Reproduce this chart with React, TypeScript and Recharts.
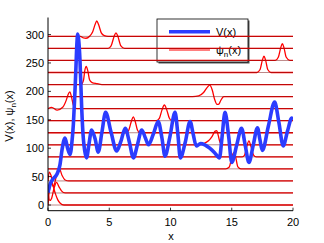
import React from "react"
import { LineChart, Line, XAxis, YAxis } from "recharts"

const vX = [
  0, 0.2, 0.45, 0.75, 0.98, 1.15, 1.39, 1.6, 1.8, 1.95, 2.07, 2.17, 2.26, 2.35, 2.42, 2.5, 2.61, 2.75,
  2.88, 3.0, 3.15, 3.35, 3.56, 3.85, 4.1, 4.4, 4.7, 5.15, 5.6, 5.95, 6.3, 6.65, 6.97, 7.3, 7.65, 7.95,
  8.2, 8.6, 9.0, 9.3, 9.55, 9.95, 10.37, 10.6, 10.8, 11.2, 11.6, 11.85, 12.1, 12.45, 12.8, 13.2, 13.6,
  14.0, 14.2, 14.45, 14.75, 15.0, 15.4, 15.8, 16.1, 16.4, 16.75, 17.1, 17.3, 17.5, 18.0, 18.5, 18.85,
  19.2, 19.55, 19.9, 20,
]
const vY = [
  22, 38, 47, 55, 71, 98, 118, 100, 89, 110, 142, 185, 230, 280, 301, 292, 255, 171,
  118, 95, 83, 108, 132, 116, 93, 128, 163, 128, 95, 112, 135, 110, 83, 106, 132, 118,
  106, 125, 147, 118, 86, 120, 163, 125, 83, 110, 147, 125, 104, 108, 106, 100, 92,
  83, 118, 163, 120, 75, 105, 135, 105, 75, 105, 136, 115, 96, 140, 181, 145,
  104, 130, 153, 150,
]

// offsets of the wavefunctions
const levels = [0, 21.2, 42.4, 63.6, 84.8, 106, 127.2, 148.4, 169.6, 190.8, 212, 233.2, 254.4, 275.6, 296.8]

// E_n + psi_n(x), [x, y] pairs
const psi0 = [[0, 0], [0.1, 24], [0.25, 38], [0.4, 34], [0.6, 20], [0.8, 9], [1.0, 3], [1.3, 0], [20, 0]]
const psi1 = [[0, 21.2], [0.15, 8], [0.3, 12], [0.5, 30], [0.7, 40], [0.9, 32], [1.1, 25], [1.4, 21.2], [20, 21.2]]
const psi2 = [[0, 42.4], [0.1, 58], [0.25, 52], [0.45, 32], [0.65, 48], [0.92, 64], [1.15, 52], [1.4, 44], [1.7, 42.4], [20, 42.4]]
const psi3 = [[0, 63.6], [14.5, 63.6], [14.8, 67], [15.0, 84], [15.16, 92], [15.32, 84], [15.5, 67], [15.75, 63.6], [20, 63.6]]
const psi4 = [[0, 84.8], [15.85, 84.8], [16.05, 88], [16.22, 102], [16.4, 113], [16.58, 102], [16.78, 88], [17.0, 84.8], [20, 84.8]]
const psi5 = [[0, 106], [12.3, 106], [12.7, 108], [13.1, 113], [13.4, 121], [13.65, 130], [13.78, 131], [13.9, 122], [14.05, 110], [14.3, 106], [20, 106]]
const psi6 = [[0, 127.2], [6.4, 127.2], [6.6, 132], [6.8, 147], [6.96, 155], [7.12, 147], [7.3, 132], [7.5, 127.2], [20, 127.2]]
const psi7 = [[0, 148.4], [8.85, 148.4], [9.1, 153], [9.3, 167], [9.5, 176], [9.7, 167], [9.9, 153], [10.1, 148.4], [20, 148.4]]
const psi8 = [[0, 169.6], [0.3, 172], [0.75, 167], [1.2, 172], [1.5, 185], [1.65, 195], [1.78, 199], [1.92, 190], [2.05, 177], [2.25, 170], [2.5, 169.6], [20, 169.6]]
const psi9 = [[0, 190.8], [11.8, 190.8], [12.3, 192], [12.7, 198], [13.0, 207], [13.2, 211], [13.4, 203], [13.6, 186], [13.8, 177], [13.95, 177.5], [14.1, 184], [14.35, 190.8], [20, 190.8]]
const psi10 = [[0, 212], [2.7, 212], [2.9, 220], [3.0, 236], [3.12, 244], [3.25, 236], [3.4, 220], [3.6, 215.5], [4.0, 213.5], [4.4, 212], [20, 212]]
const psi11 = [[0, 233.2], [17.05, 233.2], [17.3, 238], [17.5, 255], [17.63, 262], [17.76, 255], [17.95, 238], [18.2, 233.2], [20, 233.2]]
const psi12 = [[0, 254.4], [18.55, 254.4], [18.8, 260], [19.0, 277], [19.13, 284], [19.26, 277], [19.45, 260], [19.75, 254.4], [20, 254.4]]
const psi13 = [[0, 275.6], [4.9, 275.6], [5.15, 280], [5.4, 297], [5.55, 303], [5.7, 297], [5.95, 280], [6.25, 275.6], [20, 275.6]]
const psi14 = [[0, 296.8], [2.65, 296.8], [2.9, 294], [3.1, 293.5], [3.4, 297], [3.65, 305], [3.85, 318], [3.98, 324], [4.12, 318], [4.35, 303], [4.6, 298], [4.9, 296.8], [20, 296.8]]

const psiAll = [psi0, psi1, psi2, psi3, psi4, psi5, psi6, psi7, psi8, psi9, psi10, psi11, psi12, psi13, psi14]

const xTicks = [0, 5, 10, 15, 20]
const yTicks = [0, 50, 100, 150, 200, 250, 300]

const FONT = "'Liberation Sans', Arial, Helvetica, sans-serif"

const vData = vX.map((x, i) => ({ x, y: vY[i] }))
const psiData = psiAll.map((pts) => pts.map(([x, y]) => ({ x, y })))
const baseData = levels.map((e) => [{ x: 0, y: e }, { x: 20, y: e }])

const BottomTick = ({ x, y, payload }: any) => (
  <g>
    <line x1={x} y1={y} x2={x} y2={y - 3} stroke="#000" strokeWidth={0.8} />
    <text x={x} y={y + 15} textAnchor="middle" fontSize={11} fontFamily={FONT} fill="#000">
      {payload.value}
    </text>
  </g>
)
const TopTick = ({ x, y }: any) => <line x1={x} y1={y} x2={x} y2={y + 3} stroke="#000" strokeWidth={0.8} />
const LeftTick = ({ x, y, payload }: any) => (
  <g>
    <line x1={x} y1={y} x2={x + 3} y2={y} stroke="#000" strokeWidth={0.8} />
    <text x={x - 4} y={y + 4} textAnchor="end" fontSize={11} fontFamily={FONT} fill="#000">
      {payload.value}
    </text>
  </g>
)
const RightTick = ({ x, y }: any) => <line x1={x} y1={y} x2={x - 3} y2={y} stroke="#000" strokeWidth={0.8} />

export default function App() {
  return (
    <div style={{ position: "absolute", left: 0, top: 0, background: "#fff" }}>
      <LineChart width={324} height={243} margin={{ top: 17.5, right: 31, bottom: 0, left: 8 }}>
        <XAxis
          xAxisId={0}
          type="number"
          dataKey="x"
          domain={[0, 20]}
          ticks={xTicks}
          height={32.3}
          tickSize={0}
          tickMargin={0}
          tickLine={false}
          tick={<BottomTick />}
          axisLine={{ stroke: "#000" }}
          allowDataOverflow
        />
        <XAxis
          xAxisId="top"
          orientation="top"
          type="number"
          dataKey="x"
          domain={[0, 20]}
          ticks={xTicks}
          height={0}
          tickSize={0}
          tickMargin={0}
          tickLine={false}
          tick={<TopTick />}
          axisLine={{ stroke: "#000" }}
          allowDataOverflow
        />
        <YAxis
          yAxisId={0}
          type="number"
          domain={[-10, 330]}
          ticks={yTicks}
          width={40}
          tickSize={0}
          tickMargin={0}
          tickLine={false}
          tick={<LeftTick />}
          axisLine={{ stroke: "#000" }}
          allowDataOverflow
        />
        <YAxis
          yAxisId="right"
          orientation="right"
          type="number"
          domain={[-10, 330]}
          ticks={yTicks}
          width={0}
          tickSize={0}
          tickMargin={0}
          tickLine={false}
          tick={<RightTick />}
          axisLine={{ stroke: "#000" }}
          allowDataOverflow
        />
        {psiData.map((d, i) => (
          <Line
            key={`psi-${i}`}
            data={d}
            dataKey="y"
            type="monotone"
            stroke="#ff0000"
            strokeWidth={1.3}
            dot={false}
            isAnimationActive={false}
          />
        ))}
        {baseData.map((d, i) => (
          <Line
            key={`base-${i}`}
            data={d}
            dataKey="y"
            type="linear"
            stroke="#7a1010"
            strokeWidth={0.5}
            dot={false}
            isAnimationActive={false}
          />
        ))}
        <Line
          data={vData}
          dataKey="y"
          type="monotone"
          stroke="#2b3cff"
          strokeWidth={3.6}
          dot={false}
          isAnimationActive={false}
        />
        {/* legend */}
        <g>
          <rect x={158.5} y={20.5} width={91} height={43} fill="#555" />
          <rect x={157} y={19} width={91} height={43} fill="#fff" stroke="#000" strokeWidth={0.8} />
          <line x1={169} y1={31.7} x2={210} y2={31.7} stroke="#2b3cff" strokeWidth={3.6} />
          <text x={216} y={36} fontSize={11} fontFamily={FONT}>V(x)</text>
          <line x1={169} y1={50} x2={210} y2={50} stroke="#ff0000" strokeWidth={1.2} />
          <text x={216} y={54} fontSize={11} fontFamily={FONT}>
            ψ<tspan fontSize={8} dy={3}>n</tspan>
            <tspan dy={-3}>(x)</tspan>
          </text>
        </g>
        <text x={171} y={240} textAnchor="middle" fontSize={11} fontFamily={FONT}>x</text>
        <text transform="translate(13,116) rotate(-90)" textAnchor="middle" fontSize={11} fontFamily={FONT}>
          V(x), ψ<tspan fontSize={8} dy={3}>n</tspan>
          <tspan dy={-3}>(x)</tspan>
        </text>
      </LineChart>
    </div>
  )
}
